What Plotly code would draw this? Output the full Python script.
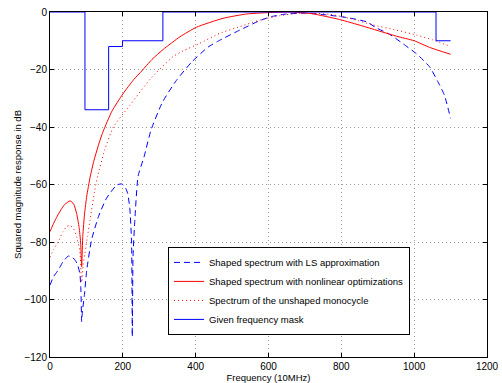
import plotly.graph_objects as go

# ---- data ----
ls_freq = [0, 10, 23, 35, 50, 60, 69, 76, 82, 85, 87, 89, 94, 101, 114, 133, 155, 183, 197, 206,
           213, 219, 224, 226, 228, 233, 242, 258, 277, 309, 347, 389, 434, 462, 521, 576, 608,
           649, 704, 759, 814, 869, 896, 933, 969, 1006, 1042, 1065, 1083, 1100]
ls_db = [-95, -92, -89.7, -87, -84.9, -85.2, -86.3, -88, -91, -97, -107.7, -104, -99, -89.7,
         -79.3, -71.2, -64.8, -60.2, -59.8, -60.8, -63, -68, -80, -113, -85, -72.3, -57, -50.5,
         -41.2, -31.3, -23.8, -17.4, -12.2, -10.1, -6.3, -3.0, -1.6, -0.7, -0.4, -1.0, -1.9,
         -3.4, -5.5, -7.8, -11.0, -14.5, -19, -24.2, -28.9, -37]

nl_freq = [0, 10, 20, 30, 40, 55, 65, 73, 80, 84, 87, 90, 95, 101, 110, 120, 135, 146, 170, 200,
           230, 252, 280, 311, 357, 402, 475, 539, 600, 658, 720, 795, 859, 951, 1000, 1042, 1100]
nl_db = [-76.4, -73.5, -71, -68.8, -67, -65.7, -66.8, -70, -75, -80, -88.6, -78, -70, -64,
         -57.5, -52, -45.5, -41.5, -34.5, -28.5, -23.5, -20.5, -16.5, -13, -8.6, -5.3, -2.2,
         -0.7, -0.2, 0, -0.6, -2.6, -4.9, -8.4, -10.0, -12.3, -14.7]

mono_freq = [0, 10, 23, 35, 46, 55, 65, 73, 82, 87, 91, 96, 103, 110, 123, 131, 150, 174, 219,
             274, 338, 366, 411, 466, 521, 576, 631, 680, 720, 768, 823, 887, 951, 1006, 1051, 1100]
mono_db = [-85.3, -82.5, -79.9, -76.5, -74.6, -74.2, -75.5, -78.2, -83, -94, -88, -84, -78,
           -72.3, -62, -57, -48, -40, -32.5, -23.5, -15.5, -13.5, -10.9, -7.4, -5.1, -2.8, -1.3,
           -0.4, -0.4, -0.8, -2.2, -4.5, -6.3, -8.0, -9.7, -12.0]

mask_freq = [0, 96, 161, 199, 310, 1060, 1100]
mask_db = [0, -34, -12, -10, 0, -10, -10]

x_ticks = [0, 200, 400, 600, 800, 1000, 1200]
y_ticks = [0, -20, -40, -60, -80, -100, -120]

font = "Liberation Sans, Arial, Helvetica, sans-serif"

fig = go.Figure()
fig.add_trace(go.Scatter(x=ls_freq, y=ls_db, mode="lines",
                         name="Shaped spectrum with LS approximation",
                         line=dict(color="#0000ff", width=1, dash="6px,4px", shape="spline", smoothing=0.5)))
fig.add_trace(go.Scatter(x=nl_freq, y=nl_db, mode="lines",
                         name="Shaped spectrum with nonlinear optimizations",
                         line=dict(color="#ff0000", width=1, shape="spline", smoothing=0.5)))
fig.add_trace(go.Scatter(x=mono_freq, y=mono_db, mode="lines",
                         name="Spectrum of the unshaped monocycle",
                         line=dict(color="#ff0000", width=1, dash="1px,3px", shape="spline", smoothing=0.5)))
fig.add_trace(go.Scatter(x=mask_freq, y=mask_db, mode="lines",
                         name="Given frequency mask",
                         line=dict(color="#0000ff", width=1, shape="hv")))

axis_common = dict(showline=True, linecolor="black", linewidth=1, mirror="ticks",
                   ticks="inside", ticklen=4, tickcolor="black", showgrid=True,
                   gridcolor="#9a9a9a", griddash="1px,3px", gridwidth=1, zeroline=False,
                   automargin=False,
                   tickfont=dict(family=font, size=10, color="black"))

fig.update_xaxes(range=[0, 1200], tickvals=x_ticks, **axis_common,
                 title=dict(text="Frequency (10MHz)", font=dict(family=font, size=9.5, color="black"),
                            standoff=1))
fig.update_yaxes(range=[-120, 0], tickvals=y_ticks, **axis_common,
                 title=dict(text="Squared magnitude response in dB",
                            font=dict(family=font, size=9.5, color="black"), standoff=1))

fig.update_layout(
    width=502, height=383,
    margin=dict(l=50, r=15, t=12, b=26, autoexpand=False),
    paper_bgcolor="white", plot_bgcolor="white",
    font=dict(family=font, size=9.5, color="black"),
    showlegend=True,
    legend=dict(x=0.27, y=0.064, xanchor="left", yanchor="bottom",
                bgcolor="white", bordercolor="black", borderwidth=1,
                font=dict(family=font, size=9.5, color="black"),
                tracegroupgap=0, itemwidth=30),
)

fig.write_html("out.html",
               config={"displayModeBar": False},
               post_script="document.body.style.margin='0px';document.body.style.padding='0px';")
